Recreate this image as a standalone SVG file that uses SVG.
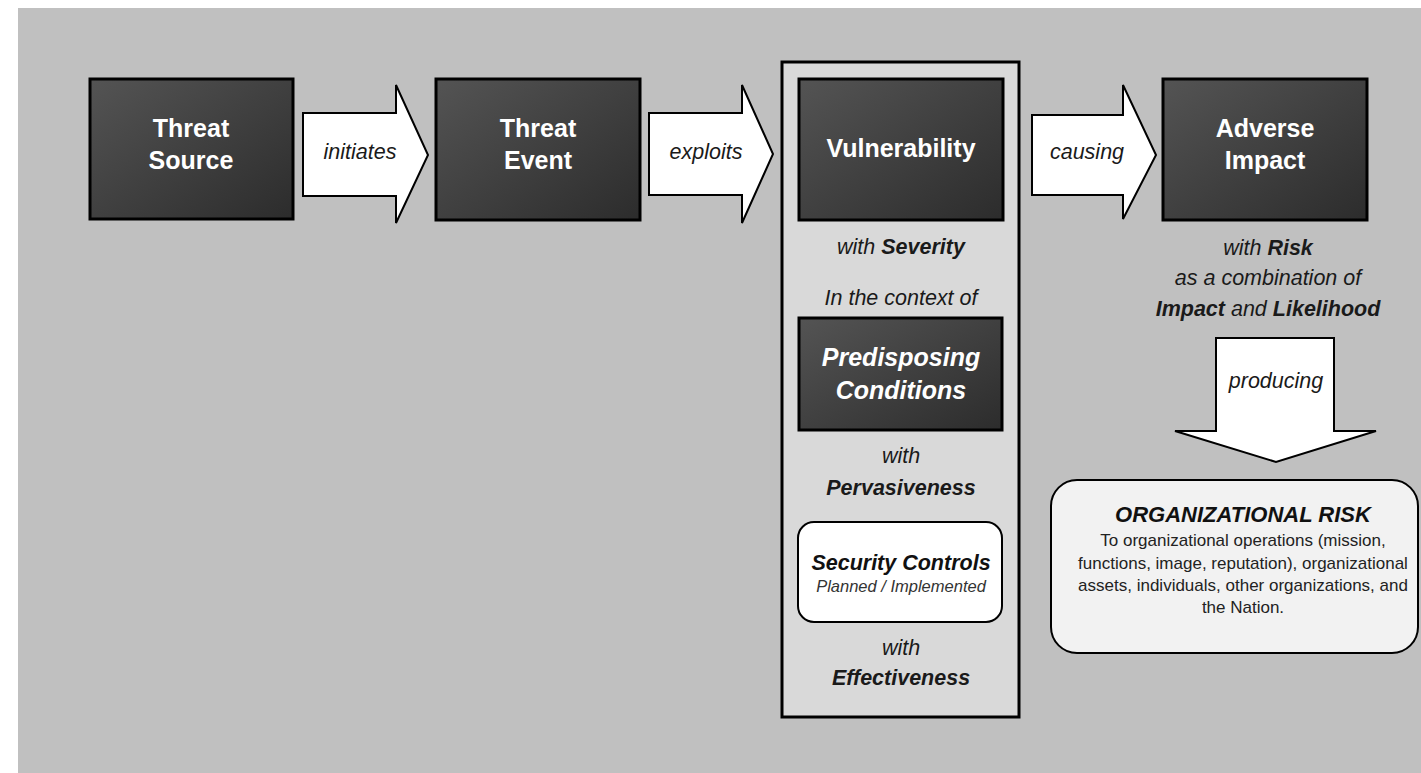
<svg xmlns="http://www.w3.org/2000/svg" width="1421" height="773" viewBox="0 0 1421 773">
<defs>
<linearGradient id="dark" x1="0" y1="0" x2="1" y2="1">
<stop offset="0" stop-color="#545454"/>
<stop offset="1" stop-color="#2c2c2c"/>
</linearGradient>
<style>
.dark{fill:url(#dark);stroke:#000;stroke-width:3}
.arrow{fill:#fff;stroke:#000;stroke-width:2;stroke-linejoin:miter}
.t{font-family:"Liberation Sans",Arial,sans-serif;text-anchor:middle}
.w{fill:#fff;font-weight:bold;font-size:25px}
.lbl{fill:#1a1a1a;font-style:italic;font-size:21.5px}
.b{font-weight:bold}
.i{font-style:italic}
.body{font-size:17px;fill:#222}
</style>
</defs>
<rect x="0" y="0" width="1421" height="773" fill="#fff"/>
<rect x="18" y="8" width="1403" height="765" fill="#c0c0c0"/>

<g id="connectors">
<path class="arrow" d="M303,113 H396 V85 L428,155 L396,223 V196 H303 Z"/>
<text class="t lbl" x="360" y="159">initiates</text>
<path class="arrow" d="M649,113 H742 V85 L773,154 L742,223 V195 H649 Z"/>
<text class="t lbl" x="706" y="159">exploits</text>
<path class="arrow" d="M1032,115 H1123 V85 L1156,155 L1123,219 V195 H1032 Z"/>
<text class="t lbl" x="1087" y="159">causing</text>
<path class="arrow" d="M1216,338 H1334 V431 H1376 L1276,462 L1175,431 H1216 Z"/>
<text class="t lbl" x="1276" y="388">producing</text>
</g>

<g id="threat-source">
<rect class="dark" x="90" y="79" width="203" height="140"/>
<text class="t w" x="191" y="137">Threat</text>
<text class="t w" x="191" y="169">Source</text>
</g>

<g id="threat-event">
<rect class="dark" x="436" y="79" width="204" height="141"/>
<text class="t w" x="538" y="137">Threat</text>
<text class="t w" x="538" y="169">Event</text>
</g>

<g id="vulnerability-panel">
<rect x="782" y="62" width="237" height="655" fill="#d9d9d9" stroke="#000" stroke-width="3"/>
</g>

<g id="vulnerability">
<rect class="dark" x="799" y="79" width="204" height="141"/>
<text class="t w" x="901" y="157">Vulnerability</text>
<text class="t lbl" x="901" y="254">with <tspan class="b">Severity</tspan></text>
<text class="t lbl" x="901" y="305" font-size="22">In the context of</text>
</g>

<g id="predisposing-conditions">
<rect class="dark" x="799" y="318" width="203" height="112"/>
<text class="t w i" x="901" y="366">Predisposing</text>
<text class="t w i" x="901" y="399">Conditions</text>
<text class="t lbl" x="901" y="463">with</text>
<text class="t lbl b" x="901" y="495">Pervasiveness</text>
</g>

<g id="security-controls">
<rect x="798" y="522" width="204" height="100" rx="16" ry="16" fill="#fff" stroke="#000" stroke-width="2"/>
<text class="t b i" x="901" y="570" font-size="21.5" fill="#111">Security Controls</text>
<text class="t i" x="901" y="592" font-size="16.5" fill="#333">Planned / Implemented</text>
<text class="t lbl" x="901" y="655">with</text>
<text class="t lbl b" x="901" y="685">Effectiveness</text>
</g>

<g id="adverse-impact">
<rect class="dark" x="1163" y="79" width="204" height="141"/>
<text class="t w" x="1265" y="137">Adverse</text>
<text class="t w" x="1265" y="169">Impact</text>
<text class="t lbl" x="1268" y="255">with <tspan class="b">Risk</tspan></text>
<text class="t lbl" x="1268" y="285">as a combination of</text>
<text class="t lbl" x="1268" y="316"><tspan class="b">Impact</tspan> and <tspan class="b">Likelihood</tspan></text>
</g>

<g id="organizational-risk">
<rect x="1051" y="480" width="367" height="173" rx="26" ry="26" fill="#f2f2f2" stroke="#000" stroke-width="2"/>
<text class="t b i" x="1243" y="522" font-size="22" fill="#111">ORGANIZATIONAL RISK</text>
<text class="t body" x="1243" y="546">To organizational operations (mission,</text>
<text class="t body" x="1243" y="569">functions, image, reputation), organizational</text>
<text class="t body" x="1243" y="591">assets, individuals, other organizations, and</text>
<text class="t body" x="1243" y="613">the Nation.</text>
</g>
</svg>
